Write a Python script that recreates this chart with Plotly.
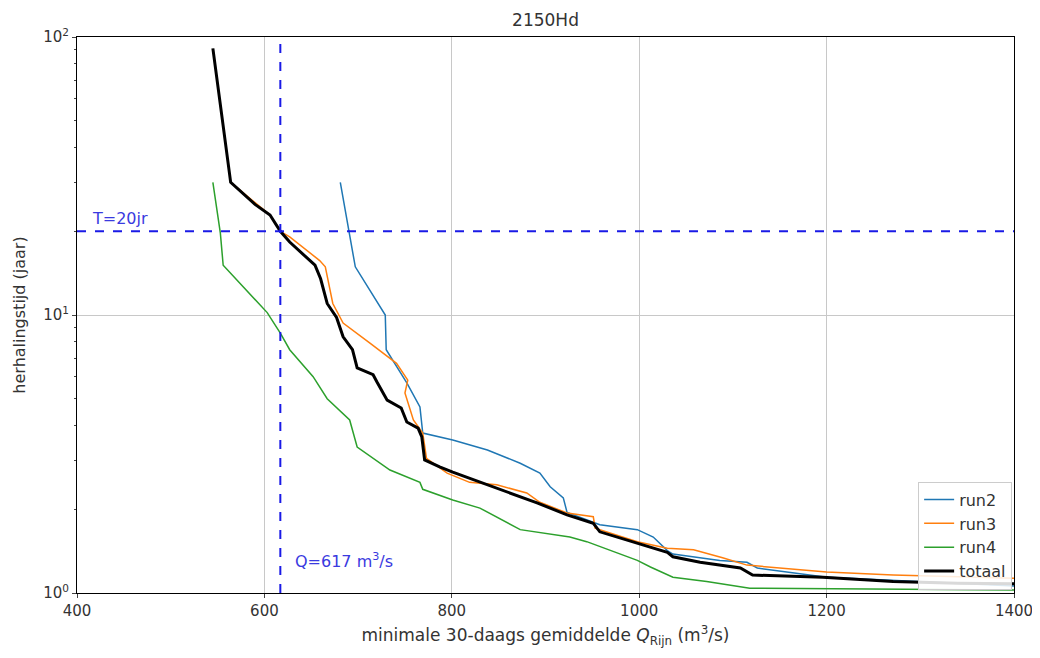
import plotly.graph_objects as go

# ---- data ----
totaal_q = [545, 564, 590, 606, 617, 627, 654, 660, 667, 677, 684, 694, 699, 716, 720, 728, 731, 746, 752, 764, 768, 771, 787, 801, 816, 838, 876, 891, 923, 951, 958, 998, 1030, 1036, 1065, 1108, 1121, 1196, 1271, 1340, 1400]
totaal_t = [91, 30, 25, 22.9, 20, 18.3, 15.1, 13.5, 11.0, 9.8, 8.35, 7.5, 6.45, 6.1, 5.75, 5.16, 4.94, 4.63, 4.12, 3.92, 3.64, 3.01, 2.84, 2.72, 2.61, 2.45, 2.21, 2.11, 1.91, 1.78, 1.66, 1.51, 1.40, 1.35, 1.29, 1.23, 1.16, 1.14, 1.10, 1.085, 1.08]

run2_q = [681, 690, 697, 729, 730, 752, 766, 769, 801, 838, 873, 894, 905, 919, 923, 958, 998, 1015, 1030, 1036, 1086, 1115, 1126, 1200, 1271, 1400]
run2_t = [30, 20, 14.9, 10, 7.5, 5.7, 4.67, 3.76, 3.55, 3.27, 2.93, 2.70, 2.41, 2.20, 1.95, 1.76, 1.69, 1.59, 1.42, 1.38, 1.31, 1.29, 1.23, 1.14, 1.11, 1.06]

run3_q = [564, 606, 617, 627, 659, 665, 673, 684, 713, 741, 753, 750, 759, 769, 773, 795, 819, 848, 880, 894, 923, 951, 953, 998, 1030, 1058, 1089, 1115, 1200, 1271, 1400]
run3_t = [30, 22.9, 20, 19.1, 15.7, 14.9, 11.0, 9.36, 7.9, 6.7, 5.83, 5.24, 4.19, 3.76, 3.05, 2.70, 2.5, 2.45, 2.29, 2.12, 1.94, 1.88, 1.71, 1.53, 1.45, 1.43, 1.34, 1.26, 1.19, 1.16, 1.13]

run4_q = [545, 553, 556, 603, 617, 627, 652, 667, 691, 699, 734, 766, 769, 801, 830, 873, 926, 944, 998, 1012, 1036, 1072, 1118, 1250, 1400]
run4_t = [30, 19.7, 15.1, 10.2, 8.6, 7.5, 6.0, 5.0, 4.19, 3.35, 2.77, 2.5, 2.36, 2.16, 2.02, 1.69, 1.59, 1.53, 1.31, 1.24, 1.14, 1.10, 1.04, 1.03, 1.025]

t_ref = 20
q_ref = 617

x_ticks = [400, 600, 800, 1000, 1200, 1400]
y_ticks = [1, 10, 100]
y_ticktext = ["10<sup>0</sup>", "10<sup>1</sup>", "10<sup>2</sup>"]
y_minor = [2, 3, 4, 5, 6, 7, 8, 9, 20, 30, 40, 50, 60, 70, 80, 90]

FONT = "DejaVu Sans"
TXT = "#333333"

fig = go.Figure()
fig.add_trace(go.Scatter(x=run2_q, y=run2_t, mode="lines", name="run2",
                         line=dict(color="#1f77b4", width=1.5)))
fig.add_trace(go.Scatter(x=run3_q, y=run3_t, mode="lines", name="run3",
                         line=dict(color="#ff7f0e", width=1.5)))
fig.add_trace(go.Scatter(x=run4_q, y=run4_t, mode="lines", name="run4",
                         line=dict(color="#2ca02c", width=1.5)))
fig.add_trace(go.Scatter(x=totaal_q, y=totaal_t, mode="lines", name="totaal",
                         line=dict(color="black", width=3)))

fig.add_shape(type="line", xref="paper", x0=0, x1=1, yref="y", y0=t_ref, y1=t_ref,
              line=dict(color="#1a1ae6", width=2, dash="dash"))
fig.add_shape(type="line", xref="x", x0=q_ref, x1=q_ref, yref="paper", y0=0, y1=1,
              line=dict(color="#1a1ae6", width=2, dash="dash"))

fig.add_annotation(x=414, y=1.301, xref="x", yref="y", text="T=20jr", showarrow=False,
                   xanchor="left", yanchor="bottom", yshift=1,
                   font=dict(color="#3a3ae0", size=16, family=FONT))
fig.add_annotation(x=631, y=0.118, xref="x", yref="y", text="Q=617 m<sup>3</sup>/s", showarrow=False,
                   xanchor="left", yanchor="middle",
                   font=dict(color="#3a3ae0", size=16, family=FONT))

fig.update_layout(
    width=1040, height=658,
    margin=dict(l=69, r=34, t=29, b=73),
    plot_bgcolor="white", paper_bgcolor="white",
    font=dict(family=FONT, size=15, color=TXT),
    title=dict(text="2150Hd", x=0.5, xref="paper", xanchor="center", y=0.982, yanchor="middle",
               font=dict(size=17, family=FONT, color=TXT)),
    legend=dict(x=0.998, xanchor="right", y=0.006, yanchor="bottom",
                bordercolor="#cccccc", borderwidth=1, bgcolor="rgba(255,255,255,0.85)",
                font=dict(size=16, family=FONT, color=TXT), tracegroupgap=0),
    showlegend=True,
)
fig.update_xaxes(range=[400, 1400], tickvals=x_ticks, ticks="outside", ticklen=4,
                 showgrid=True, gridcolor="#c8c8c8", gridwidth=1,
                 showline=True, linecolor="black", linewidth=1, mirror=True,
                 zeroline=False, tickfont=dict(size=15),
                 title=dict(text="minimale 30-daags gemiddelde <i>Q</i><sub>Rijn</sub> (m<sup>3</sup>/s)",
                            font=dict(size=17), standoff=10))
fig.update_yaxes(type="log", range=[0, 2], tickvals=y_ticks, ticktext=y_ticktext,
                 ticks="outside", ticklen=4,
                 minor=dict(tickvals=y_minor, ticks="outside", ticklen=2, showgrid=False),
                 showgrid=True, gridcolor="#c8c8c8", gridwidth=1,
                 showline=True, linecolor="black", linewidth=1, mirror=True,
                 zeroline=False, tickfont=dict(size=15),
                 title=dict(text="herhalingstijd (jaar)", font=dict(size=16), standoff=13))

fig.write_html("out.html")
